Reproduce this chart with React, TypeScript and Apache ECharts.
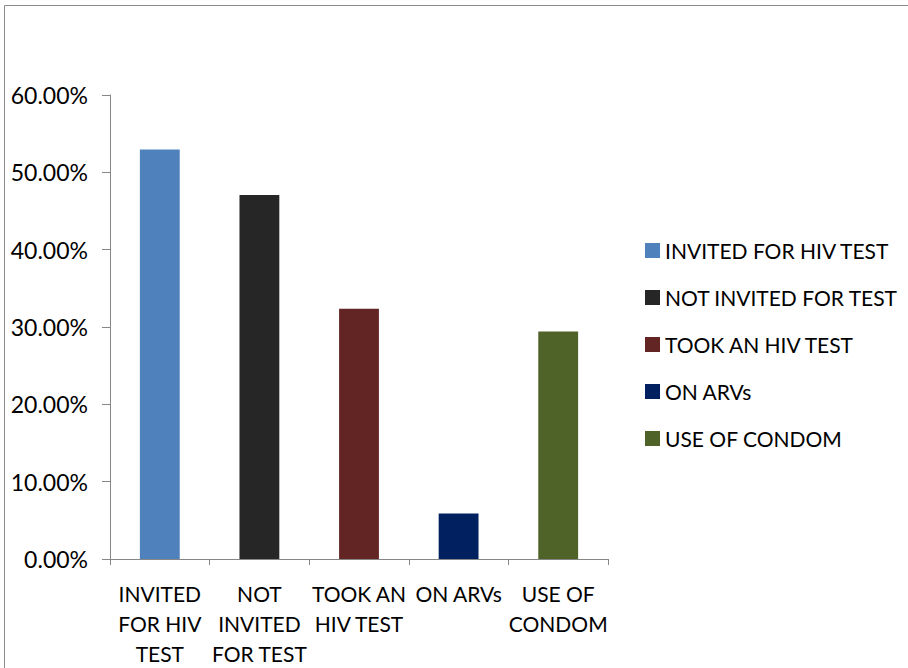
import React, { useEffect, useRef } from "react";
import * as echarts from "echarts";

// Share of respondents (n = 34) for each indicator
const categories: string[] = [
  "INVITED FOR HIV TEST",
  "NOT INVITED FOR TEST",
  "TOOK AN HIV TEST",
  "ON ARVs",
  "USE OF CONDOM",
];
const axisLabels: string[] = [
  "INVITED\nFOR HIV\nTEST",
  "NOT\nINVITED\nFOR TEST",
  "TOOK AN\nHIV TEST",
  "ON ARVs",
  "USE OF\nCONDOM",
];
const values: number[] = [0.5294, 0.4706, 0.3235, 0.0588, 0.2941];
const colors: string[] = ["#4F81BD", "#262626", "#632523", "#002060", "#4F6228"];
const yTicks = { min: 0, max: 0.6, interval: 0.1 };

const FONT = "Lato, 'DejaVu Sans', sans-serif";

export default function App() {
  const ref = useRef<HTMLDivElement>(null);

  useEffect(() => {
    if (!ref.current) return;
    document.body.style.margin = "0";
    const chart = echarts.init(ref.current, null, { renderer: "svg" });

    // one series per category so each bar gets its own legend entry
    const series = categories.map((name, i) => ({
      name,
      type: "bar" as const,
      stack: "all",
      barWidth: "40%",
      itemStyle: { color: colors[i] },
      data: values.map((v, j) => (j === i ? v : "-")),
    }));

    chart.setOption({
      animation: false,
      backgroundColor: "#fff",
      textStyle: { fontFamily: FONT },
      graphic: [
        {
          type: "rect",
          shape: { x: 4.5, y: 5.5, width: 1000, height: 1000 },
          style: { fill: "none", stroke: "#8c8c8c", lineWidth: 1 },
          silent: true,
        },
      ],
      grid: { left: 110, right: 300, top: 95, bottom: 109, containLabel: false },
      legend: {
        orient: "vertical",
        left: 640,
        top: 235,
        itemWidth: 15,
        itemHeight: 15,
        itemGap: 26,
        icon: "rect",
        data: categories,
        textStyle: { fontFamily: FONT, fontSize: 21, lineHeight: 20, color: "#000" },
      },
      xAxis: {
        type: "category",
        data: axisLabels,
        axisLine: { lineStyle: { color: "#868686", width: 1 } },
        axisTick: { show: true, length: 6, alignWithLabel: false, lineStyle: { color: "#868686" } },
        axisLabel: {
          interval: 0,
          margin: 19,
          color: "#000",
          fontFamily: FONT,
          fontSize: 21,
          lineHeight: 30,
          align: "center",
        },
      },
      yAxis: {
        type: "value",
        min: yTicks.min,
        max: yTicks.max,
        interval: yTicks.interval,
        splitLine: { show: false },
        axisLine: { show: true, lineStyle: { color: "#868686", width: 1 } },
        axisTick: { show: true, length: 8, lineStyle: { color: "#868686" } },
        axisLabel: {
          margin: 22,
          color: "#000",
          fontFamily: FONT,
          fontSize: 23,
          formatter: (v: number) => (v * 100).toFixed(2) + "%",
        },
      },
      series,
    });

    return () => chart.dispose();
  }, []);

  return <div ref={ref} style={{ width: 908, height: 668 }} />;
}
